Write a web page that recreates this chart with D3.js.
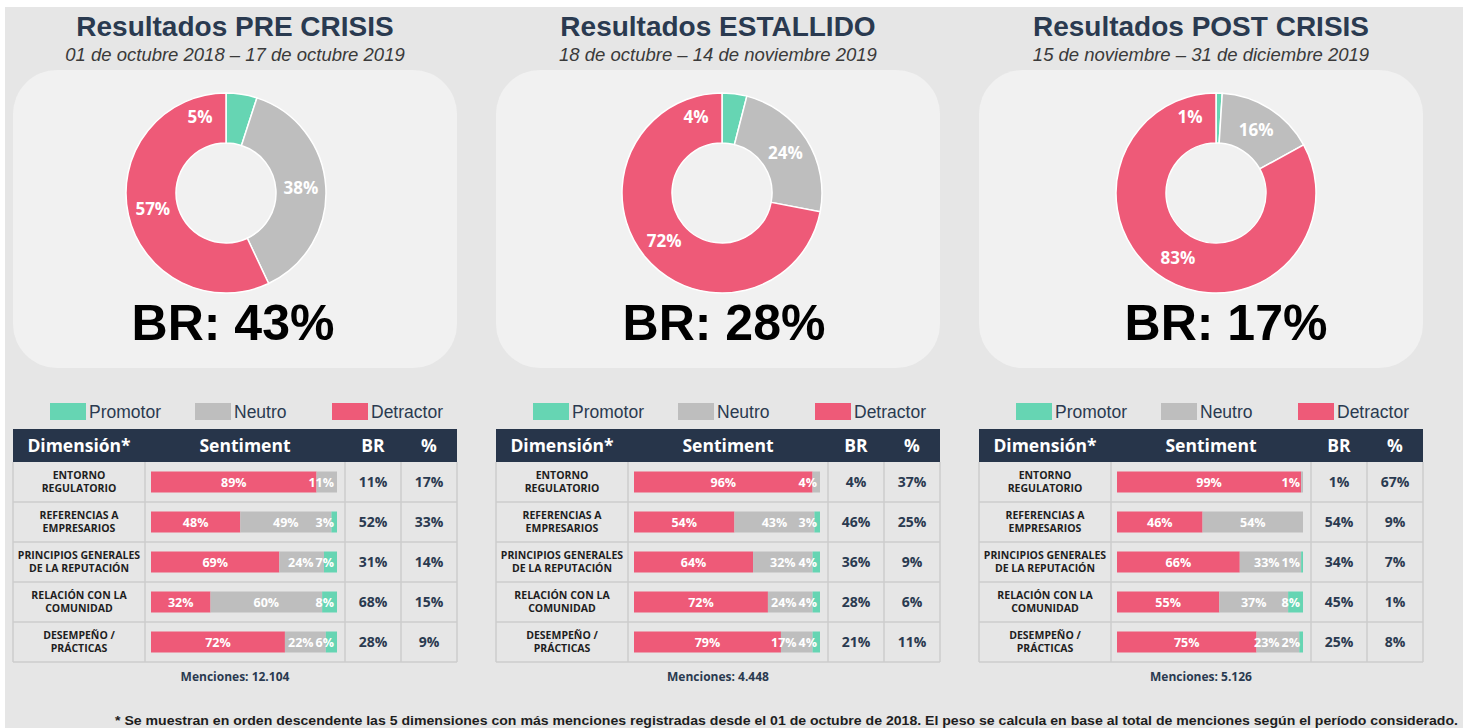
<!DOCTYPE html>
<html>
<head>
<meta charset="utf-8">
<script src="https://cdn.jsdelivr.net/npm/d3@7"></script>
<style>
  body { margin: 0; background: #ffffff; }
  svg { display: block; }
</style>
</head>
<body>
<div id="chart"></div>
<script>
// ---- data ----
const periods = ["PRE CRISIS", "ESTALLIDO", "POST CRISIS"];
const dateRanges = [
    "01 de octubre 2018 \u2013 17 de octubre 2019",
    "18 de octubre \u2013 14 de noviembre 2019",
    "15 de noviembre \u2013 31 de diciembre 2019"
];
const sentiments = ["Promotor", "Neutro", "Detractor"];

// donut shares per period
const donutPromotor = [5, 4, 1];
const donutNeutro = [38, 24, 16];
const donutDetractor = [57, 72, 83];
const brTotal = [43, 28, 17];

// table rows
const dimensions = [
    ["ENTORNO", "REGULATORIO"],
    ["REFERENCIAS A", "EMPRESARIOS"],
    ["PRINCIPIOS GENERALES", "DE LA REPUTACIÓN"],
    ["RELACIÓN CON LA", "COMUNIDAD"],
    ["DESEMPEÑO /", "PRÁCTICAS"]
];
const rowDetractor = [
    [89, 48, 69, 32, 72],
    [96, 54, 64, 72, 79],
    [99, 46, 66, 55, 75]
];
const rowNeutro = [
    [11, 49, 24, 60, 22],
    [4, 43, 32, 24, 17],
    [1, 54, 33, 37, 23]
];
const rowPromotor = [
    [0, 3, 7, 8, 6],
    [0, 3, 4, 4, 4],
    [0, 0, 1, 8, 2]
];
const rowBR = [
    [11, 52, 31, 68, 28],
    [4, 46, 36, 28, 21],
    [1, 54, 34, 45, 25]
];
const rowShare = [
    [17, 33, 14, 15, 9],
    [37, 25, 9, 6, 11],
    [67, 9, 7, 1, 8]
];
const menciones = ["12.104", "4.448", "5.126"];
const footnote = "* Se muestran en orden descendente las 5 dimensiones con más menciones registradas desde el 01 de octubre de 2018. El peso se calcula en base al total de menciones según el período considerado.";

// ---- layout ----
const width = 1468, height = 728;
const panelX = [13, 496, 979];
const panelW = 444;
const donutShift = [-9, 4, 15];
const brShift = [-2, 6, 25];
const colW = [132, 200, 56, 56];
const headers = ["Dimensión*", "Sentiment", "BR", "%"];
const tableTop = 429, headerH = 33, rowH = 40;

const color = d3.scaleOrdinal()
    .domain(sentiments)
    .range(["#66d5b3", "#bebebe", "#ee5a78"]);

const navy = "#2a3a50";

const svg = d3.select("#chart")
    .append("svg")
    .attr("width", width)
    .attr("height", height);

// grey backdrop
svg.append("rect")
    .attr("x", 5).attr("y", 7)
    .attr("width", 1458).attr("height", height - 7)
    .attr("fill", "#e6e6e6");

const arc = d3.arc().innerRadius(50).outerRadius(100);
const pie = d3.pie().sort(null).value(d => d.value);

periods.forEach((period, i) => {
    let x0 = panelX[i];
    let cx = x0 + panelW / 2;
    let g = svg.append("g");

    // title + dates
    g.append("text")
        .attr("x", cx).attr("y", 36)
        .attr("text-anchor", "middle")
        .style("font", "bold 28px 'Liberation Sans', Arial, sans-serif")
        .style("fill", navy)
        .text("Resultados " + period);
    g.append("text")
        .attr("x", cx).attr("y", 61)
        .attr("text-anchor", "middle")
        .style("font", "italic 18.5px 'Liberation Sans', Arial, sans-serif")
        .style("fill", "#3a3a3a")
        .text(dateRanges[i]);

    // card
    g.append("rect")
        .attr("x", x0).attr("y", 70)
        .attr("width", panelW).attr("height", 298)
        .attr("rx", 44).attr("ry", 44)
        .attr("fill", "#f1f1f1");

    // donut
    let slices = [
        {key: "Promotor", value: donutPromotor[i]},
        {key: "Neutro", value: donutNeutro[i]},
        {key: "Detractor", value: donutDetractor[i]}
    ];
    let dcx = cx + donutShift[i];
    let donut = g.append("g").attr("transform", `translate(${dcx},193)`);
    let arcs = pie(slices);
    donut.selectAll("path")
        .data(arcs)
        .enter()
        .append("path")
        .attr("d", arc)
        .attr("fill", d => color(d.data.key))
        .attr("stroke", "#ffffff")
        .attr("stroke-width", 1.5);

    donut.selectAll("text")
        .data(arcs)
        .enter()
        .append("text")
        .attr("transform", d => {
            if (d.data.key === "Promotor") {
                // small slice: label sits just left of 12 o'clock
                let a = -0.33, r = 80;
                return `translate(${r * Math.sin(a)},${-r * Math.cos(a)})`;
            }
            let c = arc.centroid(d);
            return `translate(${c[0]},${c[1]})`;
        })
        .attr("text-anchor", "middle")
        .attr("dy", "0.36em")
        .style("font", "bold 17px 'Open Sans', sans-serif")
        .style("fill", "#ffffff")
        .text(d => d.data.value + "%");

    // BR total
    g.append("text")
        .attr("x", cx + brShift[i]).attr("y", 340)
        .attr("text-anchor", "middle")
        .style("font", "bold 50px 'Liberation Sans', Arial, sans-serif")
        .style("fill", "#000000")
        .text("BR: " + brTotal[i] + "%");

    // legend
    let legendX = [37, 182, 319];
    sentiments.forEach((s, k) => {
        g.append("rect")
            .attr("x", x0 + legendX[k]).attr("y", 403)
            .attr("width", 36).attr("height", 17)
            .attr("fill", color(s));
        g.append("text")
            .attr("x", x0 + legendX[k] + 39).attr("y", 418)
            .style("font", "17.5px 'Liberation Sans', Arial, sans-serif")
            .style("fill", navy)
            .text(s);
    });

    // table
    let colX = [x0];
    colW.forEach((w, k) => colX.push(colX[k] + w));
    let tableW = d3.sum(colW);

    g.append("rect")
        .attr("x", x0).attr("y", tableTop)
        .attr("width", tableW).attr("height", headerH)
        .attr("fill", "#27354a");
    headers.forEach((h, k) => {
        g.append("text")
            .attr("x", colX[k] + colW[k] / 2).attr("y", tableTop + headerH / 2)
            .attr("dy", "0.36em")
            .attr("text-anchor", "middle")
            .style("font", "bold 17.5px 'Open Sans', sans-serif")
            .style("fill", "#ffffff")
            .text(h);
    });

    let bodyTop = tableTop + headerH;
    let bodyH = rowH * dimensions.length;

    // grid lines
    for (let r = 1; r <= dimensions.length; r++) {
        g.append("line")
            .attr("x1", x0).attr("x2", x0 + tableW)
            .attr("y1", bodyTop + r * rowH).attr("y2", bodyTop + r * rowH)
            .attr("stroke", "#cdcdcd").attr("stroke-width", 1.5);
    }
    colX.forEach(xx => {
        g.append("line")
            .attr("x1", xx).attr("x2", xx)
            .attr("y1", bodyTop).attr("y2", bodyTop + bodyH)
            .attr("stroke", "#cdcdcd").attr("stroke-width", 1.5);
    });

    // bar scale inside the Sentiment column
    let barX = d3.scaleLinear()
        .domain([0, 100])
        .range([colX[1] + 6, colX[2] - 8]);

    dimensions.forEach((dim, r) => {
        let yMid = bodyTop + r * rowH + rowH / 2;

        // dimension label
        let t = g.append("text")
            .attr("x", colX[0] + colW[0] / 2).attr("y", yMid)
            .attr("text-anchor", "middle")
            .style("font", "bold 10.5px 'Open Sans', sans-serif")
            .style("fill", "#1e1e1e");
        t.append("tspan").attr("x", colX[0] + colW[0] / 2).attr("dy", "-0.25em").text(dim[0]);
        t.append("tspan").attr("x", colX[0] + colW[0] / 2).attr("dy", "1.2em").text(dim[1]);

        // stacked bar
        let segs = [
            {key: "Detractor", value: rowDetractor[i][r]},
            {key: "Neutro", value: rowNeutro[i][r]},
            {key: "Promotor", value: rowPromotor[i][r]}
        ];
        let acc = 0;
        segs.forEach(s => { s.x0 = acc; acc += s.value; s.x1 = acc; });
        segs = segs.filter(s => s.value > 0);

        g.selectAll(null)
            .data(segs)
            .enter()
            .append("rect")
            .attr("x", s => barX(s.x0))
            .attr("y", yMid - 10.5)
            .attr("width", s => barX(s.x1) - barX(s.x0))
            .attr("height", 21)
            .attr("fill", s => color(s.key));

        let labels = g.selectAll(null)
            .data(segs)
            .enter()
            .append("text")
            .attr("y", yMid)
            .attr("dy", "0.36em")
            .attr("text-anchor", "middle")
            .style("font", "bold 12.5px 'Open Sans', sans-serif")
            .style("fill", "#ffffff")
            .text(s => s.value + "%");

        // pack labels from the right end so small segments don't collide
        let limit = barX(100) - 3;
        let nodes = labels.nodes();
        for (let k = nodes.length - 1; k >= 0; k--) {
            let s = segs[k];
            let w = nodes[k].getComputedTextLength();
            let mid = Math.min((barX(s.x0) + barX(s.x1)) / 2, limit - w / 2);
            d3.select(nodes[k]).attr("x", mid);
            limit = mid - w / 2 - 2;
        }

        // BR and share columns
        [rowBR[i][r], rowShare[i][r]].forEach((v, k) => {
            g.append("text")
                .attr("x", colX[k + 2] + colW[k + 2] / 2).attr("y", yMid)
                .attr("dy", "0.36em")
                .attr("text-anchor", "middle")
                .style("font", "bold 14px 'Open Sans', sans-serif")
                .style("fill", navy)
                .text(v + "%");
        });
    });

    // mentions
    g.append("text")
        .attr("x", x0 + 222).attr("y", 677)
        .attr("dy", "0.36em")
        .attr("text-anchor", "middle")
        .style("font", "bold 12px 'Open Sans', sans-serif")
        .style("fill", navy)
        .text("Menciones: " + menciones[i]);
});

// footnote along the bottom edge
svg.append("text")
    .attr("x", 115).attr("y", 725)
    .attr("textLength", 1343)
    .attr("lengthAdjust", "spacingAndGlyphs")
    .style("font", "bold 12.5px 'Liberation Sans', Arial, sans-serif")
    .style("fill", "#1e1e1e")
    .text(footnote);
</script>
</body>
</html>
